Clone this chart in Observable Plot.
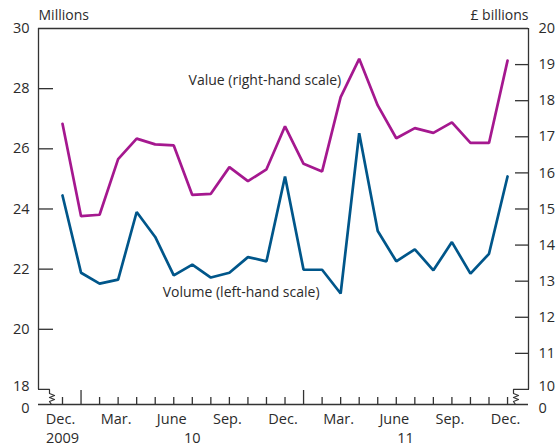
<!DOCTYPE html>
<html><head><meta charset="utf-8">
<script src="https://cdn.jsdelivr.net/npm/d3@7"></script>
<script src="https://cdn.jsdelivr.net/npm/@observablehq/plot@0.6"></script>
<style>body{margin:0;background:#fff} svg{display:block}</style>
</head><body><div id="chart"></div>
<script>
// Data: monthly, Dec. 2009 to Dec. 2011
const months = ["2009-12","2010-01","2010-02","2010-03","2010-04","2010-05","2010-06","2010-07","2010-08","2010-09","2010-10","2010-11","2010-12",
  "2011-01","2011-02","2011-03","2011-04","2011-05","2011-06","2011-07","2011-08","2011-09","2011-10","2011-11","2011-12"];
const volume = [24.45,21.88,21.52,21.65,23.90,23.07,21.79,22.15,21.72,21.88,22.40,22.26,25.08,
  21.98,21.98,21.19,26.52,23.27,22.26,22.66,21.96,22.90,21.85,22.51,25.08]; // millions (left)
const value = [17.36,14.80,14.84,16.38,16.95,16.79,16.76,15.39,15.42,16.16,15.77,16.10,17.29,
  16.25,16.04,18.10,19.16,17.87,16.96,17.24,17.11,17.40,16.83,16.83,19.11]; // £ billions (right)
const leftTicks = [18,20,22,24,26,28,30];
const rightTicks = [10,11,12,13,14,15,16,17,18,19,20];
const xTickLabels = ["Dec.","Mar.","June","Sep.","Dec.","Mar.","June","Sep.","Dec."];
const xTickMonths = [0,3,6,9,12,15,18,21,24];
const yearLabels = ["2009","10","11"];
const yearMonths = [0,7,18.5];

const blue = "#00568a", magenta = "#a5188f", ink = "#2b2b2b", axis = "#333";
const xmin = -1.294, xmax = 25.13, ybot = 17.5, ytop = 30;
const ux = 1/18.54, uy = 1/30.08; // data units per pixel
const toLeft = v => 18 + (v - 10) * 1.2;
const idx = months.map((m,i)=>i);

// scale-break zigzags (in data units relative to the axis ends)
const zzL = [[0,0],[11,0],[11,-4],[16,-6],[11,-8],[16,-10],[11,-12],[13,-15]]
  .map(([px,py])=>({x:xmin+px*ux, y:18+py*uy}));
const zzR = [[0,0],[-15,0],[-15,-4],[-10,-6],[-15,-8],[-10,-10],[-15,-12],[-13,-15]]
  .map(([px,py])=>({x:xmax+px*ux, y:18+py*uy}));

const fs = 14.5;
const chart = Plot.plot({
  width: 556, height: 448,
  marginLeft: 38, marginRight: 28, marginTop: 28, marginBottom: 44,
  x: {domain: [xmin, xmax], axis: null},
  y: {domain: [ybot, ytop], axis: null},
  style: {fontFamily: "'Open Sans', sans-serif", fontSize: "14px", color: ink, background: "#fff"},
  marks: [
    // frame
    Plot.ruleY([ytop], {x1: xmin, x2: xmax, stroke: axis, strokeWidth: 1.3}),
    Plot.ruleY([ybot], {x1: xmin, x2: xmax, stroke: axis, strokeWidth: 1.3}),
    Plot.ruleX([xmin], {y1: 18, y2: ytop, stroke: axis, strokeWidth: 1.3}),
    Plot.ruleX([xmax], {y1: 18, y2: ytop, stroke: axis, strokeWidth: 1.3}),
    Plot.line(zzL, {x: "x", y: "y", stroke: axis, strokeWidth: 1.2, curve: "linear"}),
    Plot.line(zzR, {x: "x", y: "y", stroke: axis, strokeWidth: 1.2, curve: "linear"}),
    // left ticks
    Plot.ruleY(leftTicks.filter(t => t > 18 && t < 30), {x1: xmin, x2: xmin + 15*ux, stroke: axis, strokeWidth: 1.3}),
    Plot.text(leftTicks.filter(t => t > 18), {x: xmin, y: d => d, text: d => String(d), textAnchor: "end", dx: -9, fill: ink, fontSize: fs}),
    Plot.text(leftTicks.filter(t => t === 18), {x: xmin, y: d => d, text: d => String(d), textAnchor: "end", dx: -9, dy: -3, fill: ink, fontSize: fs}),
    Plot.text(["0"], {x: xmin, y: ybot, text: d => d, textAnchor: "end", dx: -9, dy: 4, fill: ink, fontSize: fs}),
    // right ticks
    Plot.ruleY(rightTicks.filter(t => t > 10 && t < 20), {y: toLeft, x1: xmax - 13*ux, x2: xmax, stroke: axis, strokeWidth: 1.3}),
    Plot.text(rightTicks.filter(t => t > 10), {x: xmax, y: toLeft, text: d => String(d), textAnchor: "start", dx: 10, fill: ink, fontSize: fs}),
    Plot.text(rightTicks.filter(t => t === 10), {x: xmax, y: toLeft, text: d => String(d), textAnchor: "start", dx: 10, dy: -3, fill: ink, fontSize: fs}),
    Plot.text(["0"], {x: xmax, y: ybot, text: d => d, textAnchor: "start", dx: 10, dy: 4, fill: ink, fontSize: fs}),
    // month ticks
    Plot.ruleX(idx, {x: d => d, y1: ybot, y2: d => ybot + (months[d].endsWith("-01") ? 14 : 7)*uy, stroke: axis, strokeWidth: 1.3}),
    Plot.text(xTickMonths, {x: d => d, y: ybot, text: (d,i) => xTickLabels[i], dy: 15, dx: -2, fill: ink, fontSize: fs}),
    Plot.text(yearMonths, {x: d => d, y: ybot, text: (d,i) => yearLabels[i], dy: 34, fill: ink, fontSize: fs}),
    // unit labels
    Plot.text(["Millions"], {x: xmin, y: ytop, text: d => d, textAnchor: "start", dy: -13, fill: ink, fontSize: 14}),
    Plot.text(["£ billions"], {x: xmax, y: ytop, text: d => d, textAnchor: "end", dy: -13, fill: ink, fontSize: 14}),
    // series
    Plot.line(value, {x: (d,i) => i, y: d => toLeft(d), stroke: magenta, strokeWidth: 2.7, strokeLinejoin: "miter"}),
    Plot.line(volume, {x: (d,i) => i, y: d => d, stroke: blue, strokeWidth: 2.7, strokeLinejoin: "miter"}),
    Plot.text(["Value (right-hand scale)"], {x: 6.8, y: 28.27, text: d => d, textAnchor: "start", fill: ink, fontSize: 14}),
    Plot.text(["Volume (left-hand scale)"], {x: 5.4, y: 21.23, text: d => d, textAnchor: "start", fill: ink, fontSize: 14})
  ]
});
document.getElementById("chart").appendChild(chart);
</script>
</body></html>
